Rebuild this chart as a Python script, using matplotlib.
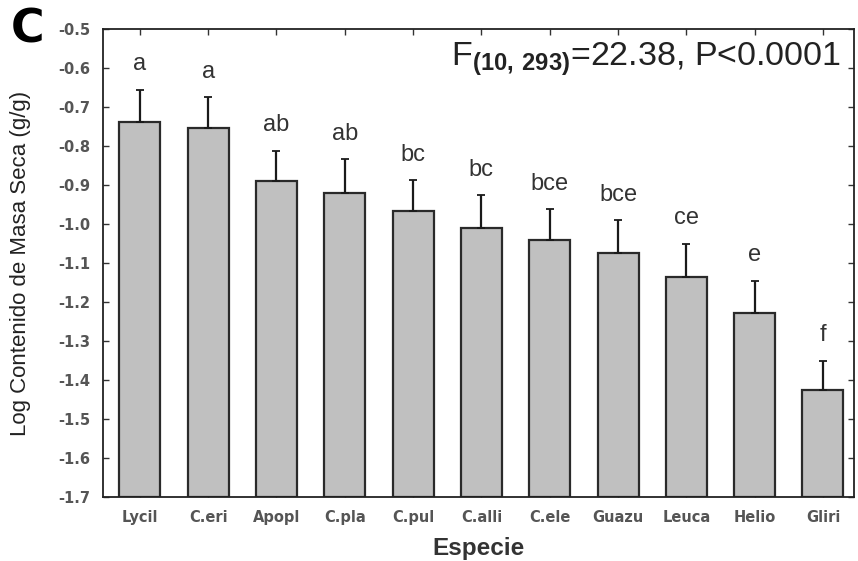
import matplotlib
matplotlib.use("Agg")
import matplotlib.pyplot as plt
import numpy as np

species = ["Lycil", "C.eri", "Apopl", "C.pla", "C.pul", "C.alli", "C.ele",
           "Guazu", "Leuca", "Helio", "Gliri"]
means = [-0.739, -0.754, -0.889, -0.921, -0.967, -1.009, -1.042,
         -1.075, -1.135, -1.229, -1.426]
errors = [0.084, 0.080, 0.077, 0.087, 0.080, 0.083, 0.080,
          0.085, 0.085, 0.084, 0.075]
letters = ["a", "a", "ab", "ab", "bc", "bc", "bce", "bce", "ce", "e", "f"]
yticks = [-0.5, -0.6, -0.7, -0.8, -0.9, -1.0, -1.1, -1.2, -1.3, -1.4, -1.5, -1.6, -1.7]
ybase = -1.7

plt.rcParams['font.family'] = ['Liberation Sans', 'DejaVu Sans']
plt.rcParams['mathtext.fontset'] = 'custom'
plt.rcParams['mathtext.rm'] = 'Liberation Sans'
plt.rcParams['mathtext.bf'] = 'Liberation Sans:bold'

fig = plt.figure(figsize=(8.58, 5.61), dpi=100)
ax = fig.add_axes([0.120, 0.114, 0.875, 0.834])

x = np.arange(len(species))
heights = [m - ybase for m in means]
ax.bar(x, heights, bottom=ybase, width=0.6, color="#c0c0c0",
       edgecolor="#2a2a2a", linewidth=1.6, zorder=2)
ax.errorbar(x, means, yerr=[np.zeros(len(errors)), errors], fmt="none",
            ecolor="#1a1a1a", elinewidth=1.6, capsize=3, capthick=1.3, zorder=3)

for xi, m, e, lab in zip(x, means, errors, letters):
    ax.text(xi, m + e + 0.05, lab, ha="center", va="baseline",
            fontsize=17, color="#333333")

ax.set_xlim(-0.54, 10.45)
ax.set_ylim(-1.7, -0.5)
ax.set_yticks(yticks)
tick_font = dict(family="DejaVu Sans", weight="bold", size=10.5)
ax.set_yticklabels([f"{v:.1f}" for v in yticks], color="#555555", **tick_font)
ax.set_xticks(x)
ax.set_xticklabels(species, color="#555555", **tick_font)
ax.tick_params(direction="in", top=True, right=True, length=4, width=1,
               color="#333333")
ax.tick_params(axis="y", pad=9)
ax.tick_params(axis="x", pad=9)
for s in ax.spines.values():
    s.set_linewidth(1.3)
    s.set_color("#222222")

ax.set_ylabel("Log Contenido de Masa Seca (g/g)", fontsize=16, color="#222222")
ax.yaxis.set_label_coords(-0.096, 0.5)
ax.set_xlabel("Especie", fontsize=17.5, fontweight="bold", color="#333333")
ax.xaxis.set_label_coords(0.5, -0.085)

ax.text(0.983, 0.935, r"F$_{\mathbf{(10,\,293)}}$=22.38, P<0.0001", transform=ax.transAxes,
        ha="right", va="center", fontsize=24.5, color="#222222")

fig.text(0.013, 0.946, "C", fontsize=33, fontweight="bold", color="black",
         ha="left", va="center", family="DejaVu Sans")

fig.savefig("out.png", dpi=100)
